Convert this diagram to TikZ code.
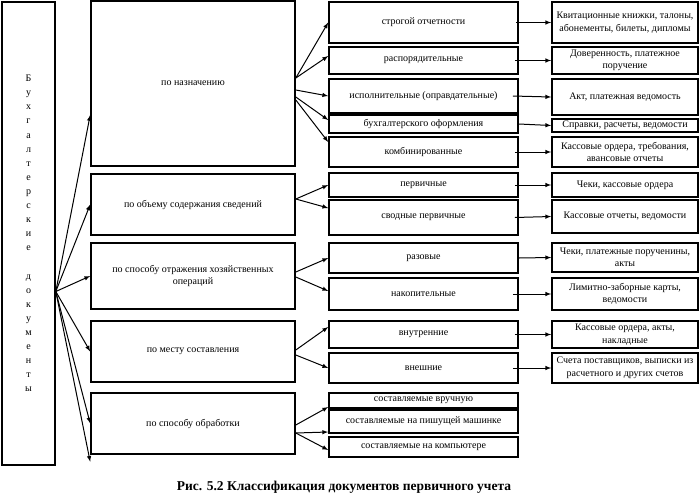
\documentclass[tikz,border=0pt]{standalone}
\usepackage{fontspec}
\setmainfont{Liberation Serif}
\usetikzlibrary{arrows}

\begin{document}
\begin{tikzpicture}[x=1pt, y=-1pt,
  box/.style={draw, line width=1.6pt, inner sep=1pt, align=center, font=\fontsize{10}{12.5}\selectfont},
  group/.style={box, minimum width=204pt},
  kind/.style={box, minimum width=189pt},
  sample/.style={box, minimum width=146pt},
  link/.style={->, >=latex, line width=1pt}]
  \useasboundingbox (0,0) rectangle (699,499);

  \node[box, minimum width=53pt, minimum height=463pt, font=\fontsize{10}{14.1}\selectfont] (docs) at (28.5,233.5)
    {Б\\у\\х\\г\\а\\л\\т\\е\\р\\с\\к\\и\\е\\[14.1pt]д\\о\\к\\у\\м\\е\\н\\т\\ы};

  \node[group, minimum height=165pt] (naz) at (193,83.5) {по назначению};
  \node[group, minimum height=61pt] (obem) at (193,204.5) {по объему содержания сведений};
  \node[group, minimum height=66pt] (otr) at (193,276) {по способу отражения хозяйственных\\операций};
  \node[group, minimum height=61pt] (mesto) at (193,351.5) {по месту составления};
  \node[group, minimum height=61pt] (obr) at (193,423.5) {по способу обработки};

  \node[kind, minimum height=41pt] (strog) at (423.5,22.5) {строгой отчетности};
  \node[kind, minimum height=27pt] (rasp) at (423.5,60.5) {распорядительные};
  \node[kind, minimum height=34pt] (isp) at (423.5,96) {исполнительные (оправдательные)};
  \node[kind, minimum height=18pt] (buh) at (423.5,124) {бухгалтерского оформления};
  \node[kind, minimum height=30pt] (komb) at (423.5,152) {комбинированные};
  \node[kind, minimum height=24pt] (perv) at (423.5,185) {первичные};
  \node[kind, minimum height=35pt] (svod) at (423.5,217.5) {сводные первичные};
  \node[kind, minimum height=30pt] (raz) at (423.5,258) {разовые};
  \node[kind, minimum height=32pt] (nak) at (423.5,294) {накопительные};
  \node[kind, minimum height=27pt] (vnut) at (423.5,334.5) {внутренние};
  \node[kind, minimum height=30pt] (vnesh) at (423.5,368) {внешние};
  \node[kind, minimum height=15pt, inner sep=0pt] (ruch) at (423.5,400.5) {составляемые вручную};
  \node[kind, minimum height=23pt] (mash) at (423.5,421.5) {составляемые на пишущей машинке};
  \node[kind, minimum height=20pt] (komp) at (423.5,447) {составляемые на компьютере};

  \node[sample, minimum height=41pt] (s1) at (625,22.5) {Квитационные книжки, талоны,\\абонементы, билеты, дипломы};
  \node[sample, minimum height=27pt, inner sep=0pt] (s2) at (625,60.5) {Доверенность, платежное\\поручение};
  \node[sample, minimum height=36pt] (s3) at (625,97) {Акт, платежная ведомость};
  \node[sample, minimum height=13pt, inner sep=0pt] (s4) at (625,125.5) {Справки, расчеты, ведомости};
  \node[sample, minimum height=30pt] (s5) at (625,152) {Кассовые ордера, требования,\\авансовые отчеты};
  \node[sample, minimum height=24pt] (s6) at (625,185) {Чеки, кассовые ордера};
  \node[sample, minimum height=33pt] (s7) at (625,216.5) {Кассовые отчеты, ведомости};
  \node[sample, minimum height=29pt] (s8) at (625,257.5) {Чеки, платежные порученины,\\акты};
  \node[sample, minimum height=32pt] (s9) at (625,294) {Лимитно-заборные карты,\\ведомости};
  \node[sample, minimum height=27pt, inner sep=0pt] (s10) at (625,334.5) {Кассовые ордера, акты,\\накладные};
  \node[sample, minimum height=30pt] (s11) at (625,368) {Счета поставщиков, выписки из\\расчетного и других счетов};

  \node[font=\fontsize{13.5}{16}\selectfont\bfseries] (caption) at (344,487) {Рис. 5.2 Классификация документов первичного учета};

  \coordinate (root) at ([yshift=-58pt]docs.east);
  \coordinate (extra) at ([yshift=-7pt]obr.south west);

  \path[link]
  (root) edge ([yshift=-31.5pt]naz.west)
  (root) edge (obem.west)
  (root) edge (otr.west)
  (root) edge (mesto.west)
  (root) edge (obr.west)
  (root) edge (extra);

  \path[link]
  ([yshift=5.5pt]naz.east) edge (strog.west)
  ([yshift=5.5pt]naz.east) edge ([yshift=4.5pt]rasp.west)
  ([yshift=-6.5pt]naz.east) edge (isp.west)
  ([yshift=-13.5pt]naz.east) edge ([yshift=4pt]buh.west)
  ([yshift=-16.5pt]naz.east) edge ([yshift=10pt]komb.west)
  ([yshift=5.5pt]obem.east) edge (perv.west)
  ([yshift=5.5pt]obem.east) edge ([yshift=9.5pt]svod.west)
  ([yshift=4pt]otr.east) edge (raz.west)
  ([yshift=-1pt]otr.east) edge ([yshift=3pt]nak.west)
  ([yshift=1.5pt]mesto.east) edge ([yshift=7.5pt]vnut.west)
  ([yshift=-3.5pt]mesto.east) edge (vnesh.west)
  ([yshift=-1.5pt]obr.east) edge ([yshift=-6.5pt]ruch.west)
  ([yshift=-9.5pt]obr.east) edge ([yshift=-10.5pt]mash.west)
  ([yshift=-9.5pt]obr.east) edge ([yshift=-3pt]komp.west);

  \path[link]
  ([xshift=-3pt]strog.east) edge (s1.west)
  ([xshift=-4pt]rasp.east) edge (s2.west)
  ([xshift=-6pt]isp.east) edge (s3.west)
  (buh.east) edge (s4.west)
  ([xshift=-4pt]komb.east) edge (s5.west)
  ([xshift=-4pt]perv.east) edge (s6.west)
  ([xshift=-4pt]svod.east) edge (s7.west)
  (raz.east) edge (s8.west)
  ([xshift=-6pt]nak.east) edge (s9.west)
  ([xshift=-4pt]vnut.east) edge (s10.west)
  ([xshift=-6pt]vnesh.east) edge (s11.west);
\end{tikzpicture}
\end{document}
